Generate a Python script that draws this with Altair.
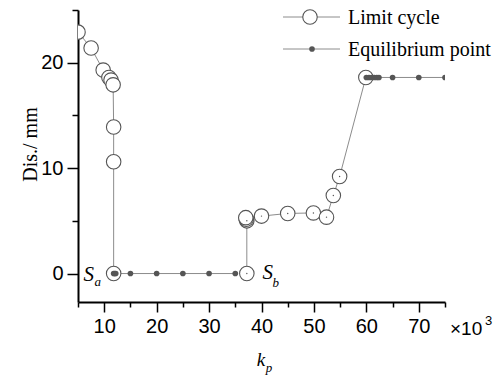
import altair as alt
import pandas as pd

# ---- data ----
# Limit cycle (open circles), in path order; seg separates the two branches
lc_x = [5.0, 7.5, 9.8, 10.9, 11.3, 11.7, 11.8, 11.8, 11.8,
        37.2, 37.2, 37.1, 37.0, 40.0, 45.0, 49.9, 52.4, 53.7, 54.9, 59.9]
lc_y = [22.9, 21.4, 19.3, 18.6, 18.35, 17.9, 13.9, 10.6, 0.0,
        0.0, 5.0, 5.15, 5.3, 5.45, 5.7, 5.75, 5.35, 7.4, 9.2, 18.6]
lc_seg = [1] * 9 + [2] * 11

# Equilibrium points (filled dots)
eq_x = [11.8, 12.0, 12.2, 15, 20, 25, 30, 35,
        60, 60.5, 61, 61.5, 62, 62.4, 65, 70, 75]
eq_y = [0] * 8 + [18.6] * 9
eq_seg = [1] * 8 + [2] * 9

# small centre dots inside limit-cycle circles
uc_x = [37.2, 37.2, 40.0, 45.0, 49.9, 52.4, 53.7, 54.9]
uc_y = [0.0, 5.0, 5.45, 5.7, 5.75, 5.35, 7.4, 9.2]

x_major = [10, 20, 30, 40, 50, 60, 70]
x_minor = [5, 15, 25, 35, 45, 55, 65, 75]
y_major = [0, 10, 20]
y_minor = [5, 15, 25]

legend_labels = ["Limit cycle", "Equilibrium point"]
y_title = "Dis./ mm"

lc = pd.DataFrame({"x": lc_x, "y": lc_y, "seg": lc_seg, "i": range(len(lc_x))})
eq = pd.DataFrame({"x": eq_x, "y": eq_y, "seg": eq_seg, "i": range(len(eq_x))})
uc = pd.DataFrame({"x": uc_x, "y": uc_y})
sa = lc.iloc[[8]]
sb = lc.iloc[[9]]

XS = alt.Scale(domain=[5, 75], nice=False, zero=False)
YS = alt.Scale(domain=[-2.7, 25], nice=False, zero=False)

SERIF = "Liberation Serif"
SANS = "Liberation Sans"
DARK = "#555555"
LINE = "#8c8c8c"

xa_major = alt.Axis(values=x_major, orient="bottom", tickSize=10, tickWidth=1.5,
                    tickColor="black", domainColor="black", domainWidth=2,
                    labelFont=SANS, labelFontSize=20, labelColor="black",
                    labelPadding=4, labelFlush=False, grid=False, title=None, format="d")
xa_minor = alt.Axis(values=x_minor, orient="bottom", tickSize=5, tickWidth=1.5,
                    tickColor="black", labels=False, domain=False, grid=False, title=None)
ya_major = alt.Axis(values=y_major, orient="left", tickSize=11, tickWidth=1.5,
                    tickColor="black", domainColor="black", domainWidth=2,
                    labelFont=SANS, labelFontSize=20, labelColor="black",
                    labelPadding=4, grid=False, format="d",
                    title=y_title, titleFont=SERIF, titleFontSize=20,
                    titleFontWeight="normal", titleColor="black", titleAngle=-90,
                    titleX=-48, titleY=134, titleAlign="center", titleBaseline="middle")
ya_minor = alt.Axis(values=y_minor, orient="left", tickSize=6, tickWidth=1.5,
                    tickColor="black", labels=False, domain=False, grid=False, title=None)

lc_line = alt.Chart(lc).mark_line(color=LINE, strokeWidth=1, clip=True).encode(
    x=alt.X("x:Q", scale=XS, axis=None),
    y=alt.Y("y:Q", scale=YS, axis=None),
    detail="seg:N", order="i:Q")

eq_line = alt.Chart(eq).mark_line(color=LINE, strokeWidth=1, clip=True).encode(
    x=alt.X("x:Q", scale=XS, axis=None),
    y=alt.Y("y:Q", scale=YS, axis=None),
    detail="seg:N", order="i:Q")

lc_pts = alt.Chart(lc).mark_point(shape="circle", filled=True, fill="white",
                                  stroke=DARK, strokeWidth=1.1, size=210,
                                  opacity=1, clip=True).encode(
    x=alt.X("x:Q", scale=XS, axis=xa_major),
    y=alt.Y("y:Q", scale=YS, axis=ya_major))

eq_pts = alt.Chart(eq).mark_point(shape="circle", filled=True, color=DARK,
                                  size=32, opacity=1, clip=True).encode(
    x=alt.X("x:Q", scale=XS, axis=xa_minor),
    y=alt.Y("y:Q", scale=YS, axis=ya_minor))

uc_pts = alt.Chart(uc).mark_point(shape="circle", filled=True, color=DARK,
                                  size=2, opacity=1, clip=True).encode(
    x=alt.X("x:Q", scale=XS, axis=None),
    y=alt.Y("y:Q", scale=YS, axis=None))


def anno(df, text, dx, dy, size, style="italic"):
    return alt.Chart(df).mark_text(text=text, dx=dx, dy=dy, font=SERIF,
                                   fontSize=size, fontStyle=style, color="black",
                                   align="center", baseline="alphabetic").encode(
        x=alt.X("x:Q", scale=XS, axis=None),
        y=alt.Y("y:Q", scale=YS, axis=None))


one = pd.DataFrame({"k": [0]})


def txt(text, x, y, size, font=SERIF, style="normal", align="left", baseline="alphabetic"):
    return alt.Chart(one).mark_text(text=text, font=font, fontSize=size, fontStyle=style,
                                    color="black", align=align, baseline=baseline).encode(
        x=alt.value(x), y=alt.value(y))


def hline(x1, x2, y):
    return alt.Chart(one).mark_rule(color=LINE, strokeWidth=1).encode(
        x=alt.value(x1), x2=alt.value(x2), y=alt.value(y))


def sym(x, y, **kw):
    return alt.Chart(one).mark_point(shape="circle", opacity=1, **kw).encode(
        x=alt.value(x), y=alt.value(y))


layers = [
    lc_line, eq_line, lc_pts, eq_pts, uc_pts,
    anno(sa, "S", -25, 7, 21), anno(sa, "a", -16, 12, 13),
    anno(sb, "S", 21, 5, 21), anno(sb, "b", 29, 13, 13),
    # legend
    hline(205, 262, 7), sym(232, 7, filled=True, fill="white", stroke=DARK, strokeWidth=1.1, size=210),
    txt(legend_labels[0], 270, 8, 20, baseline="middle"),
    hline(205, 262, 39), sym(234, 39, filled=True, color=DARK, size=32),
    txt(legend_labels[1], 270, 40, 20, baseline="middle"),
    # x-axis title and multiplier
    txt("k", 183, 356, 19, style="italic", align="center"),
    txt("p", 191, 362, 13, style="italic", align="center"),
    txt("×10", 372, 325, 19, font=SANS),
    txt("3", 407, 315, 13, font=SANS),
]

chart = alt.layer(*layers).resolve_axis(x="independent", y="independent").properties(
    width=367, height=292,
    padding={"left": 78, "top": 10, "right": 52, "bottom": 76},
    autosize=alt.AutoSizeParams(type="none"),
    background="white",
).configure_view(stroke=None)

chart.save("out.html", embed_options={"renderer": "svg", "actions": False})
